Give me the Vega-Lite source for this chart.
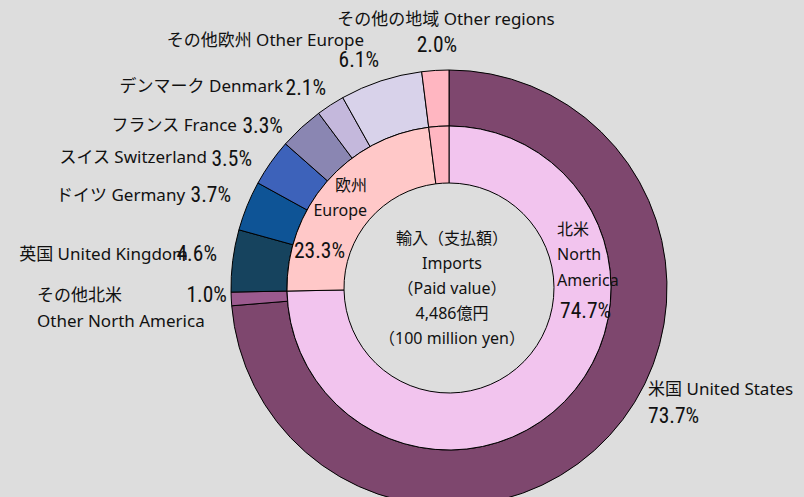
{
  "$schema": "https://vega.github.io/schema/vega-lite/v6.json",
  "width": 710,
  "height": 418,
  "autosize": {"type": "none"},
  "padding": {"left": 94, "top": 79, "right": 0, "bottom": 0},
  "background": "#dddddd",
  "config": {"view": {"stroke": null}},
  "datasets": {
    "outer": [
      {"key": "us", "order": 1, "value": 73.7, "name": "米国 United States", "pct": "73.7%"},
      {"key": "ona", "order": 2, "value": 1.0, "name": "その他北米\nOther North America", "pct": "1.0%"},
      {"key": "uk", "order": 3, "value": 4.6, "name": "英国 United Kingdom", "pct": "4.6%"},
      {"key": "de", "order": 4, "value": 3.7, "name": "ドイツ Germany", "pct": "3.7%"},
      {"key": "ch", "order": 5, "value": 3.5, "name": "スイス Switzerland", "pct": "3.5%"},
      {"key": "fr", "order": 6, "value": 3.3, "name": "フランス France", "pct": "3.3%"},
      {"key": "dk", "order": 7, "value": 2.1, "name": "デンマーク Denmark", "pct": "2.1%"},
      {"key": "oeu", "order": 8, "value": 6.1, "name": "その他欧州 Other Europe", "pct": "6.1%"},
      {"key": "oth", "order": 9, "value": 2.0, "name": "その他の地域 Other regions", "pct": "2.0%"}
    ],
    "inner": [
      {"key": "na", "order": 1, "value": 74.7, "name": "北米\nNorth\nAmerica", "pct": "74.7%"},
      {"key": "eu", "order": 2, "value": 23.3, "name": "欧州\nEurope", "pct": "23.3%"},
      {"key": "oth", "order": 3, "value": 2.0, "name": "", "pct": ""}
    ],
    "center": [
      {"text": "輸入（支払額）\nImports\n（Paid value）\n4,486億円\n（100 million yen）"}
    ]
  },
  "layer": [
    {
      "data": {"name": "outer"},
      "mark": {"type": "arc", "radius": 218, "radius2": 162, "stroke": "#000000", "strokeWidth": 1},
      "encoding": {
        "theta": {"field": "value", "type": "quantitative", "stack": true},
        "order": {"field": "order", "type": "quantitative"},
        "color": {"field": "key", "type": "nominal", "legend": null,
          "scale": {"domain": ["us", "ona", "uk", "de", "ch", "fr", "dk", "oeu", "oth", "na", "eu"],
                    "range": ["#7e476e", "#9b5a8e", "#16435e", "#0e5496", "#3d62ba", "#8a86b2", "#c4b8dc", "#d8d2ea", "#ffb6c1", "#f2c4ee", "#ffc8c8"]}}
      }
    },
    {
      "data": {"name": "inner"},
      "mark": {"type": "arc", "radius": 162, "radius2": 105, "stroke": "#000000", "strokeWidth": 1},
      "encoding": {
        "theta": {"field": "value", "type": "quantitative", "stack": true},
        "order": {"field": "order", "type": "quantitative"},
        "color": {"field": "key", "type": "nominal", "legend": null}
      }
    },
    {
      "data": {"name": "outer"},
      "mark": {"type": "text", "radius": 230, "align": "left", "baseline": "middle", "dx": 29.9, "dy": -53.4, "font": "Noto Sans, Noto Sans CJK JP", "fontSize": 17, "color": "#111111"},
      "encoding": {"theta": {"field": "value", "type": "quantitative", "stack": true}, "order": {"field": "order", "type": "quantitative"}, "detail": {"field": "key"},
        "text": {"condition": {"test": "datum.key === 'us'", "field": "name"}, "value": ""}}
    },
    {
      "data": {"name": "outer"},
      "mark": {"type": "text", "radius": 230, "align": "left", "baseline": "middle", "dx": 29.9, "dy": -26.4, "font": "Roboto Condensed, Roboto", "fontSize": 21.5, "color": "#111111"},
      "encoding": {"theta": {"field": "value", "type": "quantitative", "stack": true}, "order": {"field": "order", "type": "quantitative"}, "detail": {"field": "key"},
        "text": {"condition": {"test": "datum.key === 'us'", "field": "pct"}, "value": ""}}
    },
    {
      "data": {"name": "outer"},
      "mark": {"type": "text", "radius": 230, "align": "left", "baseline": "middle", "dx": -182.3, "dy": -3.7, "lineBreak": "\n", "lineHeight": 26.5, "font": "Noto Sans, Noto Sans CJK JP", "fontSize": 17, "color": "#111111"},
      "encoding": {"theta": {"field": "value", "type": "quantitative", "stack": true}, "order": {"field": "order", "type": "quantitative"}, "detail": {"field": "key"},
        "text": {"condition": {"test": "datum.key === 'ona'", "field": "name"}, "value": ""}}
    },
    {
      "data": {"name": "outer"},
      "mark": {"type": "text", "radius": 230, "align": "right", "baseline": "middle", "dx": 7.7, "dy": -3.6, "font": "Roboto Condensed, Roboto", "fontSize": 21.5, "color": "#111111"},
      "encoding": {"theta": {"field": "value", "type": "quantitative", "stack": true}, "order": {"field": "order", "type": "quantitative"}, "detail": {"field": "key"},
        "text": {"condition": {"test": "datum.key === 'ona'", "field": "pct"}, "value": ""}}
    },
    {
      "data": {"name": "outer"},
      "mark": {"type": "text", "radius": 230, "align": "right", "baseline": "middle", "dx": -32.8, "dy": -4.2, "font": "Noto Sans, Noto Sans CJK JP", "fontSize": 17, "color": "#111111"},
      "encoding": {"theta": {"field": "value", "type": "quantitative", "stack": true}, "order": {"field": "order", "type": "quantitative"}, "detail": {"field": "key"},
        "text": {"condition": {"test": "datum.key === 'uk'", "field": "name"}, "value": ""}}
    },
    {
      "data": {"name": "outer"},
      "mark": {"type": "text", "radius": 230, "align": "right", "baseline": "middle", "dx": -3.8, "dy": -4.2, "font": "Roboto Condensed, Roboto", "fontSize": 21.5, "color": "#111111"},
      "encoding": {"theta": {"field": "value", "type": "quantitative", "stack": true}, "order": {"field": "order", "type": "quantitative"}, "detail": {"field": "key"},
        "text": {"condition": {"test": "datum.key === 'uk'", "field": "pct"}, "value": ""}}
    },
    {
      "data": {"name": "outer"},
      "mark": {"type": "text", "radius": 230, "align": "right", "baseline": "middle", "dx": -50.9, "dy": -5.3, "font": "Noto Sans, Noto Sans CJK JP", "fontSize": 17, "color": "#111111"},
      "encoding": {"theta": {"field": "value", "type": "quantitative", "stack": true}, "order": {"field": "order", "type": "quantitative"}, "detail": {"field": "key"},
        "text": {"condition": {"test": "datum.key === 'de'", "field": "name"}, "value": ""}}
    },
    {
      "data": {"name": "outer"},
      "mark": {"type": "text", "radius": 230, "align": "right", "baseline": "middle", "dx": -4.9, "dy": -5.3, "font": "Roboto Condensed, Roboto", "fontSize": 21.5, "color": "#111111"},
      "encoding": {"theta": {"field": "value", "type": "quantitative", "stack": true}, "order": {"field": "order", "type": "quantitative"}, "detail": {"field": "key"},
        "text": {"condition": {"test": "datum.key === 'de'", "field": "pct"}, "value": ""}}
    },
    {
      "data": {"name": "outer"},
      "mark": {"type": "text", "radius": 230, "align": "right", "baseline": "middle", "dx": -53.8, "dy": 2.3, "font": "Noto Sans, Noto Sans CJK JP", "fontSize": 17, "color": "#111111"},
      "encoding": {"theta": {"field": "value", "type": "quantitative", "stack": true}, "order": {"field": "order", "type": "quantitative"}, "detail": {"field": "key"},
        "text": {"condition": {"test": "datum.key === 'ch'", "field": "name"}, "value": ""}}
    },
    {
      "data": {"name": "outer"},
      "mark": {"type": "text", "radius": 230, "align": "right", "baseline": "middle", "dx": -8.8, "dy": 4.3, "font": "Roboto Condensed, Roboto", "fontSize": 21.5, "color": "#111111"},
      "encoding": {"theta": {"field": "value", "type": "quantitative", "stack": true}, "order": {"field": "order", "type": "quantitative"}, "detail": {"field": "key"},
        "text": {"condition": {"test": "datum.key === 'ch'", "field": "pct"}, "value": ""}}
    },
    {
      "data": {"name": "outer"},
      "mark": {"type": "text", "radius": 230, "align": "right", "baseline": "middle", "dx": -56.2, "dy": 7.2, "font": "Noto Sans, Noto Sans CJK JP", "fontSize": 17, "color": "#111111"},
      "encoding": {"theta": {"field": "value", "type": "quantitative", "stack": true}, "order": {"field": "order", "type": "quantitative"}, "detail": {"field": "key"},
        "text": {"condition": {"test": "datum.key === 'fr'", "field": "name"}, "value": ""}}
    },
    {
      "data": {"name": "outer"},
      "mark": {"type": "text", "radius": 230, "align": "right", "baseline": "middle", "dx": -10.2, "dy": 8.2, "font": "Roboto Condensed, Roboto", "fontSize": 21.5, "color": "#111111"},
      "encoding": {"theta": {"field": "value", "type": "quantitative", "stack": true}, "order": {"field": "order", "type": "quantitative"}, "detail": {"field": "key"},
        "text": {"condition": {"test": "datum.key === 'fr'", "field": "pct"}, "value": ""}}
    },
    {
      "data": {"name": "outer"},
      "mark": {"type": "text", "radius": 230, "align": "right", "baseline": "middle", "dx": -40.9, "dy": -7.5, "font": "Noto Sans, Noto Sans CJK JP", "fontSize": 17, "color": "#111111"},
      "encoding": {"theta": {"field": "value", "type": "quantitative", "stack": true}, "order": {"field": "order", "type": "quantitative"}, "detail": {"field": "key"},
        "text": {"condition": {"test": "datum.key === 'dk'", "field": "name"}, "value": ""}}
    },
    {
      "data": {"name": "outer"},
      "mark": {"type": "text", "radius": 230, "align": "right", "baseline": "middle", "dx": 2.1, "dy": -6, "font": "Roboto Condensed, Roboto", "fontSize": 21.5, "color": "#111111"},
      "encoding": {"theta": {"field": "value", "type": "quantitative", "stack": true}, "order": {"field": "order", "type": "quantitative"}, "detail": {"field": "key"},
        "text": {"condition": {"test": "datum.key === 'dk'", "field": "pct"}, "value": ""}}
    },
    {
      "data": {"name": "outer"},
      "mark": {"type": "text", "radius": 230, "align": "right", "baseline": "middle", "dx": -13.2, "dy": -28, "font": "Noto Sans, Noto Sans CJK JP", "fontSize": 17, "color": "#111111"},
      "encoding": {"theta": {"field": "value", "type": "quantitative", "stack": true}, "order": {"field": "order", "type": "quantitative"}, "detail": {"field": "key"},
        "text": {"condition": {"test": "datum.key === 'oeu'", "field": "name"}, "value": ""}}
    },
    {
      "data": {"name": "outer"},
      "mark": {"type": "text", "radius": 230, "align": "right", "baseline": "middle", "dx": 1.8, "dy": -8, "font": "Roboto Condensed, Roboto", "fontSize": 21.5, "color": "#111111"},
      "encoding": {"theta": {"field": "value", "type": "quantitative", "stack": true}, "order": {"field": "order", "type": "quantitative"}, "detail": {"field": "key"},
        "text": {"condition": {"test": "datum.key === 'oeu'", "field": "pct"}, "value": ""}}
    },
    {
      "data": {"name": "outer"},
      "mark": {"type": "text", "radius": 230, "align": "center", "baseline": "middle", "dx": 11.4, "dy": -38.5, "font": "Noto Sans, Noto Sans CJK JP", "fontSize": 17, "color": "#111111"},
      "encoding": {"theta": {"field": "value", "type": "quantitative", "stack": true}, "order": {"field": "order", "type": "quantitative"}, "detail": {"field": "key"},
        "text": {"condition": {"test": "datum.key === 'oth'", "field": "name"}, "value": ""}}
    },
    {
      "data": {"name": "outer"},
      "mark": {"type": "text", "radius": 230, "align": "center", "baseline": "middle", "dx": 2.4, "dy": -12.5, "font": "Roboto Condensed, Roboto", "fontSize": 21.5, "color": "#111111"},
      "encoding": {"theta": {"field": "value", "type": "quantitative", "stack": true}, "order": {"field": "order", "type": "quantitative"}, "detail": {"field": "key"},
        "text": {"condition": {"test": "datum.key === 'oth'", "field": "pct"}, "value": ""}}
    },
    {
      "data": {"name": "inner"},
      "mark": {"type": "text", "radius": 134, "align": "right", "baseline": "middle", "dx": 19.4, "dy": -14.8, "lineBreak": "\n", "lineHeight": 25.5, "font": "Noto Sans, Noto Sans CJK JP", "fontSize": 16, "color": "#111111"},
      "encoding": {"theta": {"field": "value", "type": "quantitative", "stack": true}, "order": {"field": "order", "type": "quantitative"}, "detail": {"field": "key"},
        "text": {"condition": {"test": "datum.key === 'eu'", "field": "name"}, "value": ""}}
    },
    {
      "data": {"name": "inner"},
      "mark": {"type": "text", "radius": 134, "align": "right", "baseline": "middle", "dx": -2.6, "dy": 51.2, "font": "Roboto Condensed, Roboto", "fontSize": 21.5, "color": "#111111"},
      "encoding": {"theta": {"field": "value", "type": "quantitative", "stack": true}, "order": {"field": "order", "type": "quantitative"}, "detail": {"field": "key"},
        "text": {"condition": {"test": "datum.key === 'eu'", "field": "pct"}, "value": ""}}
    },
    {
      "data": {"name": "inner"},
      "mark": {"type": "text", "radius": 134, "align": "left", "baseline": "middle", "dx": 12.4, "dy": -151.9, "lineBreak": "\n", "lineHeight": 25.3, "font": "Noto Sans, Noto Sans CJK JP", "fontSize": 16, "color": "#111111"},
      "encoding": {"theta": {"field": "value", "type": "quantitative", "stack": true}, "order": {"field": "order", "type": "quantitative"}, "detail": {"field": "key"},
        "text": {"condition": {"test": "datum.key === 'na'", "field": "name"}, "value": ""}}
    },
    {
      "data": {"name": "inner"},
      "mark": {"type": "text", "radius": 134, "align": "left", "baseline": "middle", "dx": 15.4, "dy": -69.4, "font": "Roboto Condensed, Roboto", "fontSize": 21.5, "color": "#111111"},
      "encoding": {"theta": {"field": "value", "type": "quantitative", "stack": true}, "order": {"field": "order", "type": "quantitative"}, "detail": {"field": "key"},
        "text": {"condition": {"test": "datum.key === 'na'", "field": "pct"}, "value": ""}}
    },
    {
      "data": {"name": "center"},
      "mark": {"type": "text", "align": "center", "baseline": "middle", "dx": 3, "dy": -49, "lineBreak": "\n", "lineHeight": 25, "font": "Noto Sans, Noto Sans CJK JP", "fontSize": 16, "color": "#111111"},
      "encoding": {"text": {"field": "text"}}
    }
  ]
}
